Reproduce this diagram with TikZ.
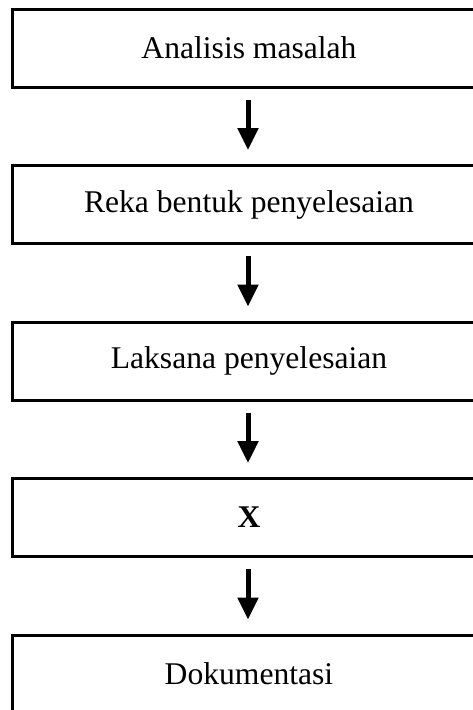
\documentclass[tikz,border=0pt]{standalone}
\usepackage{fontspec}
\setmainfont{Liberation Serif}
\usetikzlibrary{arrows.meta}
\begin{document}
\begin{tikzpicture}[x=1pt,y=-1pt,
  stagebox/.style={draw=black, line width=3pt, rectangle, minimum width=473pt,
    minimum height=78pt, inner sep=0pt, font=\fontsize{31.6}{36}\selectfont},
  flow/.style={line width=5pt, -{Triangle[width=20pt,length=22pt]}}]
  \useasboundingbox (0,0) rectangle (473,710);
  \clip (0,0) rectangle (473,710);
  \fill[white] (0,0) rectangle (473,710);
  % process stages, top to bottom
  \node[stagebox] (s1) at (249,48)    {Analisis masalah};
  \node[stagebox] (s2) at (249,204.5) {Reka bentuk penyelesaian};
  \node[stagebox] (s3) at (249,361)   {Laksana penyelesaian};
  \node[stagebox] (s4) at (249,517.5) {\textbf{X}};
  \node[stagebox] (s5) at (249,674)   {Dokumentasi};
  % arrows between stages
  \foreach \a/\b in {s1/s2, s2/s3, s3/s4, s4/s5}
    \draw[flow] ([xshift=-1pt,yshift=-11pt]\a.south) -- ([xshift=-1pt,yshift=14pt]\b.north);
\end{tikzpicture}
\end{document}
